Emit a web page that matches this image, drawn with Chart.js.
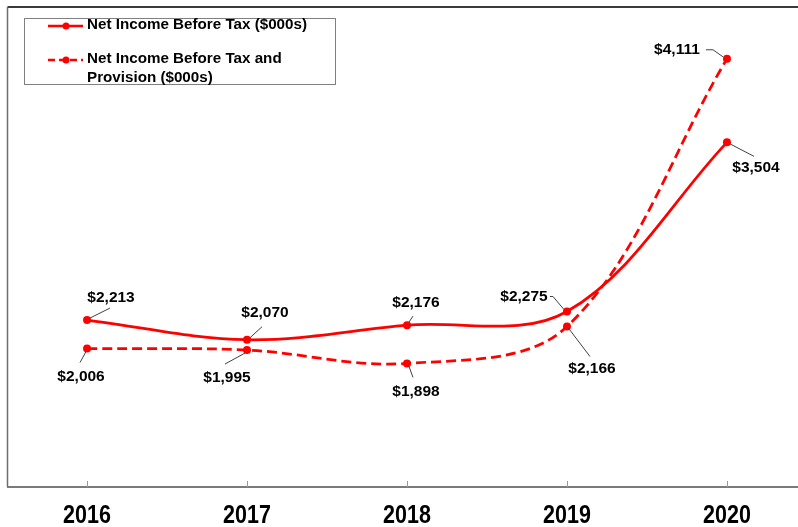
<!DOCTYPE html>
<html>
<head>
<meta charset="utf-8">
<script src="https://cdn.jsdelivr.net/npm/chart.js@4.4.1/dist/chart.umd.min.js"></script>
<style>
  html, body { margin: 0; padding: 0; background: #fff; overflow: hidden; }
  canvas { display: block; }
</style>
</head>
<body>
<canvas id="incomeChart" width="798" height="527"></canvas>
<script>
// Net income before tax, 2016-2020 ($000s)
const years = [2016, 2017, 2018, 2019, 2020];
const netIncomeBeforeTax = [2213, 2070, 2176, 2275, 3504];
const netIncomeBeforeTaxProvision = [2006, 1995, 1898, 2166, 4111];
const seriesLabels = ['Net Income Before Tax ($000s)', 'Net Income Before Tax and Provision ($000s)'];

const RED = '#ff0000';
const LABEL_FONT = 'bold 15.5px "Liberation Sans", Arial, sans-serif';
const LEGEND_FONT = 'bold 15.2px "Liberation Sans", Arial, sans-serif';
const YEAR_FONT = 'bold 25px "Liberation Sans", Arial, sans-serif';

// where each value label sits, as px offsets from its point, plus the leader line path
const labelPlacement = [
  [
    { at: [24, -22], leader: [[3, -2], [23, -12]] },
    { at: [18, -27], leader: [[3, -2], [15, -13]] },
    { at: [9, -22], leader: [[2, -3], [6, -9]] },
    { at: [-43, -15], leader: [[-3, -2], [-14, -15], [-17, -15]] },
    { at: [29, 25], leader: [[2, 1], [27, 14]] },
  ],
  [
    { at: [-6, 28], leader: [[-1, 3], [-7, 14]] },
    { at: [-20, 28], leader: [[-2, 3], [-22, 14]] },
    { at: [9, 28], leader: [[2, 3], [6, 14]] },
    { at: [25, 42], leader: [[1, 1], [23, 30]] },
    { at: [-50, -9], leader: [[-4, -2], [-14, -9], [-21, -9]] },
  ],
];

const fmt = (v) => '$' + v.toLocaleString('en-US');

const framePlugin = {
  id: 'frame',
  beforeDatasetsDraw(chart) {
    const { ctx, chartArea: a, scales } = chart;
    ctx.save();
    // top + left edges of the plot box
    ctx.strokeStyle = '#3a3a3a';
    ctx.lineWidth = 2;
    ctx.beginPath();
    ctx.moveTo(a.left - 0.5, a.top - 1);
    ctx.lineTo(a.right, a.top - 1);
    ctx.stroke();
    ctx.strokeStyle = '#6e6e6e';
    ctx.lineWidth = 1.5;
    ctx.beginPath();
    ctx.moveTo(a.left - 0.5, a.top - 1);
    ctx.lineTo(a.left - 0.5, a.bottom);
    ctx.stroke();
    // x axis line with inward ticks
    ctx.strokeStyle = '#7a7a7a';
    ctx.lineWidth = 2;
    ctx.beginPath();
    ctx.moveTo(a.left - 1, a.bottom);
    ctx.lineTo(a.right, a.bottom);
    ctx.stroke();
    ctx.lineWidth = 1;
    ctx.strokeStyle = '#9a9a9a';
    years.forEach((yr) => {
      const x = Math.round(scales.x.getPixelForValue(yr)) + 0.5;
      ctx.beginPath();
      ctx.moveTo(x, a.bottom);
      ctx.lineTo(x, a.bottom - 6);
      ctx.stroke();
    });
    // year labels, slightly condensed like the original
    ctx.font = YEAR_FONT;
    ctx.fillStyle = '#000';
    ctx.textAlign = 'center';
    ctx.textBaseline = 'middle';
    years.forEach((yr) => {
      const x = scales.x.getPixelForValue(yr);
      ctx.save();
      ctx.translate(x, a.bottom + 29);
      ctx.scale(0.86, 1);
      ctx.fillText(String(yr), 0, 0);
      ctx.restore();
    });
    ctx.restore();
  },
};

const valueLabelPlugin = {
  id: 'valueLabels',
  afterDatasetsDraw(chart) {
    const { ctx } = chart;
    ctx.save();
    ctx.font = LABEL_FONT;
    ctx.fillStyle = '#000';
    ctx.textAlign = 'center';
    ctx.textBaseline = 'middle';
    chart.data.datasets.forEach((ds, di) => {
      const meta = chart.getDatasetMeta(di);
      meta.data.forEach((pt, i) => {
        const place = labelPlacement[di][i];
        ctx.strokeStyle = '#404040';
        ctx.lineWidth = 1;
        ctx.beginPath();
        place.leader.forEach(([dx, dy], k) => {
          if (k === 0) ctx.moveTo(pt.x + dx, pt.y + dy);
          else ctx.lineTo(pt.x + dx, pt.y + dy);
        });
        ctx.stroke();
        ctx.fillText(fmt(ds.data[i].y), pt.x + place.at[0], pt.y + place.at[1]);
      });
    });
    ctx.restore();
  },
};

function wrapText(ctx, text, maxWidth) {
  const words = text.split(' ');
  const lines = [];
  let line = '';
  words.forEach((w) => {
    const test = line ? line + ' ' + w : w;
    if (line && ctx.measureText(test).width > maxWidth) {
      lines.push(line);
      line = w;
    } else {
      line = test;
    }
  });
  if (line) lines.push(line);
  return lines;
}

const boxLegendPlugin = {
  id: 'boxLegend',
  afterDraw(chart) {
    const { ctx } = chart;
    ctx.save();
    ctx.strokeStyle = '#808080';
    ctx.lineWidth = 1;
    ctx.strokeRect(24.5, 18.5, 311, 66);
    ctx.font = LEGEND_FONT;
    ctx.textAlign = 'left';
    ctx.textBaseline = 'middle';
    let y = 25;
    chart.data.datasets.forEach((ds) => {
      const lines = wrapText(ctx, ds.label, 240);
      ctx.strokeStyle = RED;
      ctx.lineWidth = 2.5;
      ctx.setLineDash(ds.borderDash ? [7, 4] : []);
      ctx.beginPath();
      ctx.moveTo(48, y + 1);
      ctx.lineTo(83, y + 1);
      ctx.stroke();
      ctx.setLineDash([]);
      ctx.fillStyle = RED;
      ctx.beginPath();
      ctx.arc(66, y + 1, 3.5, 0, Math.PI * 2);
      ctx.fill();
      ctx.fillStyle = '#000';
      lines.forEach((ln, i) => ctx.fillText(ln, 87, y + i * 19));
      y += lines.length * 19 + 15;
    });
    ctx.restore();
  },
};

new Chart(document.getElementById('incomeChart'), {
  type: 'line',
  data: {
    datasets: [
      {
        label: seriesLabels[0],
        data: years.map((yr, i) => ({ x: yr, y: netIncomeBeforeTax[i] })),
        borderColor: RED,
        backgroundColor: RED,
        borderWidth: 2.75,
        tension: 0.35,
        pointRadius: 4,
        pointBackgroundColor: RED,
        pointBorderWidth: 0,
      },
      {
        label: seriesLabels[1],
        data: years.map((yr, i) => ({ x: yr, y: netIncomeBeforeTaxProvision[i] })),
        borderColor: RED,
        backgroundColor: RED,
        borderWidth: 2.75,
        borderDash: [10, 5],
        tension: 0.35,
        pointRadius: 4,
        pointBackgroundColor: RED,
        pointBorderWidth: 0,
      },
    ],
  },
  options: {
    responsive: false,
    animation: false,
    layout: { autoPadding: false, padding: { top: 8, left: 8, right: 0, bottom: 40 } },
    plugins: {
      legend: { display: false },
      tooltip: { enabled: false },
    },
    scales: {
      x: {
        type: 'linear',
        display: false,
        min: 2015.506,
        max: 2020.444,
      },
      y: {
        display: false,
        min: 1000,
        max: 4480,
      },
    },
  },
  plugins: [framePlugin, valueLabelPlugin, boxLegendPlugin],
});
</script>
</body>
</html>
